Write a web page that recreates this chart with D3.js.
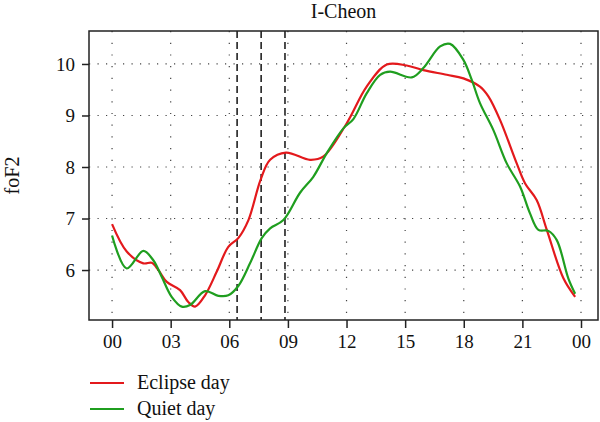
<!DOCTYPE html>
<html>
<head>
<meta charset="utf-8">
<script src="https://cdn.jsdelivr.net/npm/d3@7"></script>
<style>
  body { margin: 0; background: #fff; }
  text { font-family: "Liberation Serif", "DejaVu Serif", serif; fill: #111; }
</style>
</head>
<body>
<div id="plt"></div>
<script>
// data (hour of day, foF2 in MHz)
var eclipseHours = [0, 0.75, 1.6, 2.03, 2.37, 2.8, 3.48, 3.9, 4.25, 4.76, 5.36, 5.95, 6.46, 6.98, 7.6, 8.09, 8.9, 10.13, 10.8, 12.01, 13.03, 14.06, 15.08, 15.93, 17.13, 17.98, 18.83, 19.26, 19.86, 20.71, 21.14, 21.73, 22.25, 23.1, 23.7];
var eclipseFoF2 = [6.89, 6.36, 6.13, 6.14, 6.0, 5.77, 5.61, 5.38, 5.29, 5.51, 5.97, 6.45, 6.62, 6.97, 7.75, 8.14, 8.28, 8.14, 8.2, 8.85, 9.56, 9.99, 9.97, 9.88, 9.79, 9.72, 9.56, 9.37, 8.91, 8.07, 7.68, 7.36, 6.78, 5.84, 5.48];

var quietHours = [0, 0.75, 1.6, 2.11, 2.54, 3.05, 3.57, 3.99, 4.76, 5.44, 5.95, 6.46, 7.06, 7.66, 8.09, 8.77, 9.62, 10.3, 10.99, 11.84, 12.35, 13.03, 13.72, 14.23, 15.34, 15.93, 16.79, 17.3, 17.98, 18.41, 18.83, 19.51, 20.2, 20.88, 21.39, 21.82, 22.33, 22.76, 23.35, 23.7];
var quietFoF2 = [6.67, 6.03, 6.37, 6.19, 5.87, 5.48, 5.29, 5.32, 5.59, 5.5, 5.51, 5.69, 6.13, 6.62, 6.81, 6.97, 7.5, 7.81, 8.27, 8.75, 8.93, 9.43, 9.79, 9.85, 9.74, 9.92, 10.34, 10.39, 10.08, 9.69, 9.24, 8.72, 8.07, 7.62, 7.1, 6.78, 6.76, 6.58, 5.84, 5.54];

// eclipse start / maximum / end
var eclipseTimes = [6.4, 7.63, 8.85];

var xTicks = [0, 3, 6, 9, 12, 15, 18, 21, 24];
var xTickLabels = ["00", "03", "06", "09", "12", "15", "18", "21", "00"];
var yTicks = [6, 7, 8, 9, 10];

var seriesNames = ["Eclipse day", "Quiet day"];
var seriesColors = ["#e3191c", "#1f9e1f"];

// set the dimensions and margins of the plot
var margin = {top: 31, right: 2, bottom: 102, left: 89};
var width = 600 - margin.left - margin.right;
var height = 422 - margin.top - margin.bottom;

var svg = d3.select("#plt")
            .append("svg")
            .attr("width", 600)
            .attr("height", 422)
            .append("g")
            .attr("transform", "translate(" + margin.left + "," + margin.top + ")");

var x = d3.scaleLinear().domain([-1.18, 24.87]).range([0, width]);
var y = d3.scaleLinear().domain([5.03, 10.64]).range([height, 0]);

// dotted grid
svg.selectAll(".vgrid")
   .data(xTicks)
   .enter()
   .append("line")
   .attr("x1", function(d) { return x(d); })
   .attr("x2", function(d) { return x(d); })
   .attr("y1", 0)
   .attr("y2", height)
   .attr("stroke", "#444")
   .attr("stroke-width", 1.2)
   .attr("stroke-dasharray", "1.2,10.5");

svg.selectAll(".hgrid")
   .data(yTicks)
   .enter()
   .append("line")
   .attr("x1", 0)
   .attr("x2", width)
   .attr("y1", function(d) { return y(d); })
   .attr("y2", function(d) { return y(d); })
   .attr("stroke", "#444")
   .attr("stroke-width", 1.2)
   .attr("stroke-dasharray", "1.2,7.3");

// eclipse markers
svg.selectAll(".ecl")
   .data(eclipseTimes)
   .enter()
   .append("line")
   .attr("x1", function(d) { return x(d); })
   .attr("x2", function(d) { return x(d); })
   .attr("y1", 0)
   .attr("y2", height)
   .attr("stroke", "#222")
   .attr("stroke-width", 1.6)
   .attr("stroke-dasharray", "7,4");

// curves
var line = d3.line()
             .x(function(d) { return x(d[0]); })
             .y(function(d) { return y(d[1]); })
             .curve(d3.curveCatmullRom.alpha(0.5));

var series = [d3.zip(eclipseHours, eclipseFoF2), d3.zip(quietHours, quietFoF2)];

svg.selectAll(".series")
   .data(series)
   .enter()
   .append("path")
   .attr("d", line)
   .attr("fill", "none")
   .attr("stroke", function(d, i) { return seriesColors[i]; })
   .attr("stroke-width", 2.2);

// axes
var xAxis = svg.append("g")
   .attr("transform", "translate(0," + height + ")")
   .call(d3.axisBottom(x).tickValues(xTicks)
          .tickFormat(function(d, i) { return xTickLabels[i]; })
          .tickSize(8).tickPadding(7));

var yAxis = svg.append("g")
   .call(d3.axisLeft(y).tickValues(yTicks).tickFormat(d3.format("d"))
          .tickSize(7).tickPadding(7));

[xAxis, yAxis].forEach(function(a) {
  a.attr("font-family", null).attr("font-size", null);
  a.select(".domain").remove();
  a.selectAll("line").attr("stroke", "#222").attr("stroke-width", 1.5);
  a.selectAll("text")
   .attr("font-family", "'Liberation Serif', serif")
   .attr("font-size", 19)
   .attr("fill", "#111");
});

// box
svg.append("rect")
   .attr("x", 0)
   .attr("y", 0)
   .attr("width", width)
   .attr("height", height)
   .attr("fill", "none")
   .attr("stroke", "#222")
   .attr("stroke-width", 1.5);

// title and label
svg.append("text")
   .attr("x", width / 2)
   .attr("y", -13)
   .attr("text-anchor", "middle")
   .style("font-size", "20px")
   .text("I-Cheon");

svg.append("text")
   .attr("transform", "translate(" + (-70) + "," + (height / 2) + ")rotate(-90)")
   .attr("text-anchor", "middle")
   .style("font-size", "20px")
   .text("foF2");

// legend
var legend = svg.selectAll(".legend")
   .data(seriesNames)
   .enter()
   .append("g")
   .attr("transform", function(d, i) { return "translate(1," + (352 + i * 26) + ")"; });

legend.append("line")
   .attr("x1", 0)
   .attr("x2", 34)
   .attr("stroke", function(d, i) { return seriesColors[i]; })
   .attr("stroke-width", 2.2);

legend.append("text")
   .attr("x", 47)
   .attr("y", 6)
   .style("font-size", "20px")
   .text(function(d) { return d; });
</script>
</body>
</html>
